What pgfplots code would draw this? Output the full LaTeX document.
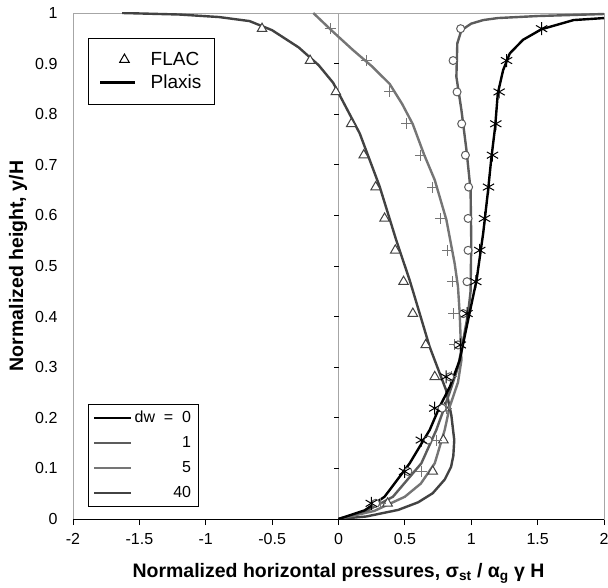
\documentclass[border=0pt]{standalone}
\usepackage{pgfplots}
\pgfplotsset{compat=1.18}
\usepackage{fontspec}
\setmainfont{Liberation Sans}

\definecolor{dwzero}{gray}{0.0}
\definecolor{dwone}{gray}{0.36}
\definecolor{dwfive}{gray}{0.46}
\definecolor{dwforty}{gray}{0.26}

\pgfplotsset{
  plaxis/.style={line width=2.4pt},
  flac/.style={only marks, mark options={line width=1pt, fill=white}},
  linelegend/.style={legend image code/.code={\draw[##1] (0pt,0pt) -- (35pt,0pt);}},
  markerlegend/.style={legend image code/.code={\draw[##1] plot coordinates {(24pt,0pt)};}},
  dwlegend/.style={legend image code/.code={\draw[##1] (0pt,0pt) -- (37pt,0pt);}},
}

\begin{document}
\begin{tikzpicture}
\begin{axis}[
  scale only axis, width=531pt, height=506pt,
  xmin=-2, xmax=2, ymin=0, ymax=1,
  xtick={-2,-1.5,-1,-0.5,0,0.5,1,1.5,2},
  ytick={0,0.1,0.2,0.3,0.4,0.5,0.6,0.7,0.8,0.9,1},
  axis line style={draw=gray!70, line width=0.8pt},
  xtick pos=left, tick align=outside,
  major tick length=6pt,
  xtick style={black, line width=0.8pt},
  ytick style={draw=none},
  /pgf/number format/assume math mode=true,
  ticklabel style={font=\fontsize{16}{18}\selectfont},
  xticklabel style={yshift=-5pt},
  yticklabel style={xshift=-6pt},
  xlabel={Normalized horizontal pressures, σ\textsubscript{st} / α\textsubscript{g} γ H},
  ylabel={Normalized height, y/H},
  label style={font=\bfseries\fontsize{19.5}{22}\selectfont},
  xlabel style={yshift=-12pt},
  ylabel style={yshift=1pt},
  legend style={at={(0.028,0.951)}, anchor=north west, draw=black, line width=0.8pt,
    font=\fontsize{19}{22}\selectfont, inner xsep=11pt, inner ysep=12pt,
    row sep=4pt, cells={anchor=west},
    /tikz/every odd column/.append style={column sep=12pt}},
]
% vertical axis through x = 0 with its tick marks
\draw[gray!70, line width=0.8pt] (axis cs:0,0) -- (axis cs:0,1);
\pgfplotsinvokeforeach{0.1,0.2,0.3,0.4,0.5,0.6,0.7,0.8,0.9}{
  \draw[black, line width=0.8pt] (axis cs:0,#1) -- ++(-5pt,0pt);
}

% Plaxis profiles
\addplot[plaxis, dwforty, forget plot] coordinates {
(-1.63,1.0) (-1.2,0.997) (-0.9,0.992) (-0.67,0.984) (-0.5,0.966) (-0.3,0.932)
(-0.15,0.897) (-0.04,0.862) (0.06,0.812) (0.16,0.762) (0.31,0.657) (0.435,0.551)
(0.536,0.472) (0.574,0.439) (0.687,0.34) (0.81,0.255) (0.85,0.205) (0.872,0.156)
(0.865,0.125) (0.848,0.103) (0.8,0.078) (0.71,0.051) (0.6,0.033) (0.45,0.018)
(0.21,0.005) (0,0)};
\addplot[plaxis, dwfive, forget plot] coordinates {
(-0.19,1.0) (-0.05,0.965) (0.108,0.927) (0.25,0.895) (0.385,0.86) (0.48,0.82)
(0.56,0.78) (0.645,0.72) (0.725,0.67) (0.813,0.591) (0.875,0.505) (0.9,0.459)
(0.913,0.406) (0.926,0.314) (0.9,0.27) (0.838,0.222) (0.8,0.176) (0.725,0.11)
(0.62,0.07) (0.5,0.044) (0.27,0.016) (0,0)};
\addplot[plaxis, dwone, forget plot] coordinates {
(2.0,0.998) (1.5,0.994) (1.2,0.99) (1.09,0.986) (1.0,0.979) (0.926,0.966)
(0.895,0.94) (0.888,0.874) (0.926,0.808) (0.964,0.729) (0.995,0.65) (1.0,0.55)
(0.995,0.45) (0.976,0.406) (0.94,0.354) (0.9,0.3) (0.85,0.26) (0.8,0.222)
(0.737,0.176) (0.624,0.11) (0.41,0.044) (0.22,0.017) (0,0)};
\addplot[plaxis, dwzero, forget plot] coordinates {
(2.0,0.99) (1.77,0.986) (1.53,0.968) (1.39,0.947) (1.29,0.92) (1.24,0.887)
(1.2,0.841) (1.18,0.775) (1.15,0.71) (1.127,0.65) (1.09,0.565) (1.04,0.472)
(0.976,0.393) (0.913,0.314) (0.84,0.262) (0.762,0.222) (0.687,0.176) (0.536,0.11)
(0.347,0.044) (0.196,0.017) (0,0)};

% FLAC results
\addplot[flac, dwforty, mark=triangle*, mark size=5.5pt, forget plot] coordinates {
(-0.576,0.969) (-0.214,0.906) (-0.02,0.844) (0.096,0.781) (0.19,0.719) (0.28,0.656)
(0.347,0.594) (0.428,0.531) (0.49,0.469) (0.56,0.406) (0.657,0.344) (0.725,0.281)
(0.8,0.219) (0.79,0.156) (0.71,0.094) (0.37,0.031)};
\addplot[flac, dwfive, mark=+, mark size=5.5pt, forget plot] coordinates {
(-0.063,0.969) (0.209,0.906) (0.385,0.844) (0.511,0.781) (0.616,0.719) (0.707,0.656)
(0.767,0.594) (0.823,0.531) (0.858,0.469) (0.868,0.406) (0.875,0.344) (0.85,0.281)
(0.81,0.219) (0.737,0.156) (0.624,0.094) (0.32,0.031)};
\addplot[flac, dwone, mark=*, mark size=4pt, forget plot] coordinates {
(0.92,0.969) (0.863,0.906) (0.893,0.844) (0.928,0.781) (0.956,0.719) (0.98,0.656)
(0.976,0.594) (0.976,0.531) (0.968,0.469) (0.94,0.406) (0.9,0.344) (0.838,0.281)
(0.78,0.219) (0.674,0.156) (0.523,0.094) (0.28,0.031)};
\addplot[flac, dwzero, mark=asterisk, mark size=6.5pt, forget plot] coordinates {
(1.53,0.969) (1.266,0.906) (1.21,0.844) (1.185,0.781) (1.16,0.719) (1.13,0.656)
(1.10,0.594) (1.064,0.531) (1.034,0.469) (0.968,0.406) (0.918,0.344) (0.81,0.281)
(0.725,0.219) (0.624,0.156) (0.498,0.094) (0.247,0.031)};

% horizontal axis line
\draw[black, line width=0.9pt] (axis cs:-2,0) -- (axis cs:2,0);

\addlegendimage{only marks, mark=triangle*, mark size=5.5pt,
  mark options={line width=1pt, fill=white}, black, markerlegend}
\addlegendentry{FLAC}
\addlegendimage{black, line width=2.4pt, linelegend}
\addlegendentry{Plaxis}
\end{axis}

% legend for the water depths
\begin{axis}[
  scale only axis, width=531pt, height=506pt,
  xmin=-2, xmax=2, ymin=0, ymax=1, hide axis,
  legend cell align=right,
  legend style={at={(0.028,0.024)}, anchor=south west, draw=black, line width=0.8pt,
    font=\fontsize{16}{18}\selectfont, inner xsep=5pt, inner ysep=5pt,
    row sep=8.5pt, cells={anchor=east}},
]
\addlegendimage{dwzero, line width=2.4pt, dwlegend}
\addlegendentry{dw\ \ =\ \ 0}
\addlegendimage{dwone, line width=2.4pt, dwlegend}
\addlegendentry{1}
\addlegendimage{dwfive, line width=2.4pt, dwlegend}
\addlegendentry{5}
\addlegendimage{dwforty, line width=2.4pt, dwlegend}
\addlegendentry{40}
\end{axis}
\pgfresetboundingbox
\path[use as bounding box] ([xshift=-73pt,yshift=-68pt]current axis.south west)
  rectangle ([xshift=4pt,yshift=13pt]current axis.north east);
\end{tikzpicture}
\end{document}
